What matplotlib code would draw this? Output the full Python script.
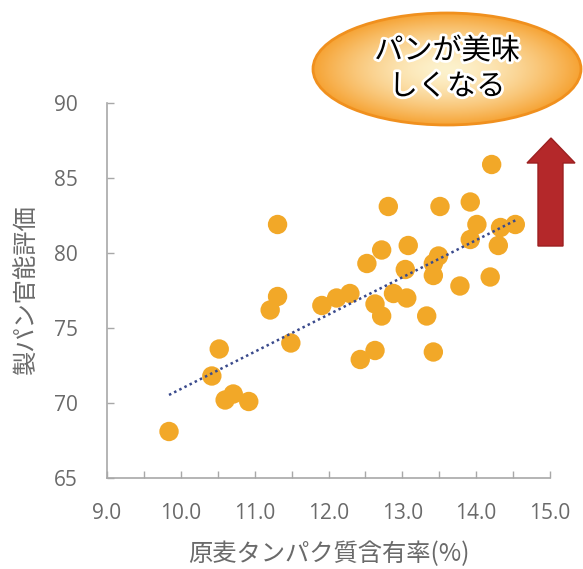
import numpy as np
import matplotlib
matplotlib.use("Agg")
import matplotlib.pyplot as plt
from matplotlib.patches import Ellipse, Polygon
import matplotlib.patheffects as pe

# ---- data ----
protein = [9.84, 10.42, 10.52, 10.60, 10.71, 10.92, 11.31, 11.31, 11.21, 11.49,
           11.91, 12.11, 12.29, 12.43, 12.63, 12.63, 12.72, 12.88, 13.06, 12.52,
           12.72, 12.81, 13.04, 13.08, 13.33, 13.42, 13.42, 13.49, 13.42, 13.51,
           13.78, 13.92, 13.92, 14.01, 14.19, 14.21, 14.30, 14.33, 14.53]
score = [68.1, 71.8, 73.6, 70.2, 70.6, 70.1, 81.9, 77.1, 76.2, 74.0,
         76.5, 77.0, 77.3, 72.9, 73.5, 76.6, 75.8, 77.3, 77.0, 79.3,
         80.2, 83.1, 78.9, 80.5, 75.8, 73.4, 78.5, 79.8, 79.3, 83.1,
         77.8, 83.4, 80.9, 81.9, 78.4, 85.9, 80.5, 81.7, 81.9]
x_ticks = [9.0, 10.0, 11.0, 12.0, 13.0, 14.0, 15.0]
y_ticks = [65, 70, 75, 80, 85, 90]
x_label = "原麦タンパク質含有率(%)"
y_label = "製パン官能評価"
callout = "パンが美味\nしくなる"

W, H = 583, 569
fig = plt.figure(figsize=(W / 100, H / 100), dpi=100)
fig.patch.set_facecolor("white")

fam = ["Open Sans", "Noto Sans CJK JP", "DejaVu Sans"]
jfam = ["Noto Sans CJK JP", "DejaVu Sans"]
gray = "#6a6a6a"
axc = "#a8a8a8"

ax = fig.add_axes([107 / W, 1 - 478 / H, (550 - 107) / W, (478 - 103) / H])
ax.set_xlim(9.0, 15.0)
ax.set_ylim(65, 90)
ax.scatter(protein, score, s=195, color="#f2a828", edgecolors="none", zorder=3)

# trend line (least squares from data)
k, b = np.polyfit(protein, score, 1)
xs = np.array([min(protein), max(protein)])
ax.plot(xs, k * xs + b, linestyle=(0, (1, 1.3)), color="#3a4a8c", lw=1.8, zorder=4)

for s in ["top", "right"]:
    ax.spines[s].set_visible(False)
for s in ["left", "bottom"]:
    ax.spines[s].set_color(axc)
    ax.spines[s].set_linewidth(1.2)

ax.set_xticks(x_ticks)
ax.set_xticklabels([f"{v:.1f}" for v in x_ticks])
ax.set_xticks(np.arange(9.5, 15.01, 1.0), minor=True)
ax.set_yticks(y_ticks)
ax.tick_params(axis="both", which="both", direction="in", length=5, color=axc, width=1)
ax.tick_params(axis="x", which="major", labelsize=15, labelcolor=gray, pad=18)
ax.tick_params(axis="y", which="major", labelsize=15, labelcolor=gray, pad=21)
for lab in ax.get_xticklabels() + ax.get_yticklabels():
    lab.set_family(fam)

ax.set_xlabel(x_label, family=jfam, fontsize=17.5, color=gray, labelpad=12)
ax.set_ylabel(y_label, family=jfam, fontsize=17.5, color=gray, labelpad=10)

# overlay in pixel coordinates
ov = fig.add_axes([0, 0, 1, 1], facecolor="none")
ov.set_xlim(0, W)
ov.set_ylim(H, 0)
ov.axis("off")

# gradient ellipse
cx, cy, ew, eh = 447, 69, 268, 112
ell = Ellipse((cx, cy), ew, eh, facecolor="none", edgecolor="#f0901e", lw=2, zorder=6)
ov.add_patch(ell)
gx, gy = np.meshgrid(np.linspace(-1, 1, 200), np.linspace(-1, 1, 200))
r = np.clip(np.sqrt(gx ** 2 + (gy * 1.0) ** 2), 0, 1)
c0 = np.array([253, 242, 205]) / 255
c1 = np.array([246, 163, 52]) / 255
t = r ** 1.6
img = c0[None, None, :] * (1 - t[..., None]) + c1[None, None, :] * t[..., None]
im = ov.imshow(img, extent=[cx - ew / 2, cx + ew / 2, cy + eh / 2, cy - eh / 2],
               zorder=5, aspect="auto")
clip = Ellipse((cx, cy), ew, eh, transform=ov.transData, facecolor="none", edgecolor="none")
ov.add_patch(clip)
im.set_clip_path(clip)
ov.set_xlim(0, W)
ov.set_ylim(H, 0)
ov.text(cx, cy, callout, ha="center", va="center", family=jfam, fontsize=21,
        color="black", linespacing=1.25, zorder=7,
        path_effects=[pe.withStroke(linewidth=4, foreground="white")])

# red arrow
arrow = Polygon([(538, 246), (538, 163), (527, 163), (551, 138), (575, 163),
                 (563, 163), (563, 246)], closed=True, facecolor="#b4282a",
                edgecolor="#9c2020", lw=1, zorder=6)
ov.add_patch(arrow)

fig.savefig("out.png", dpi=100, facecolor="white")
